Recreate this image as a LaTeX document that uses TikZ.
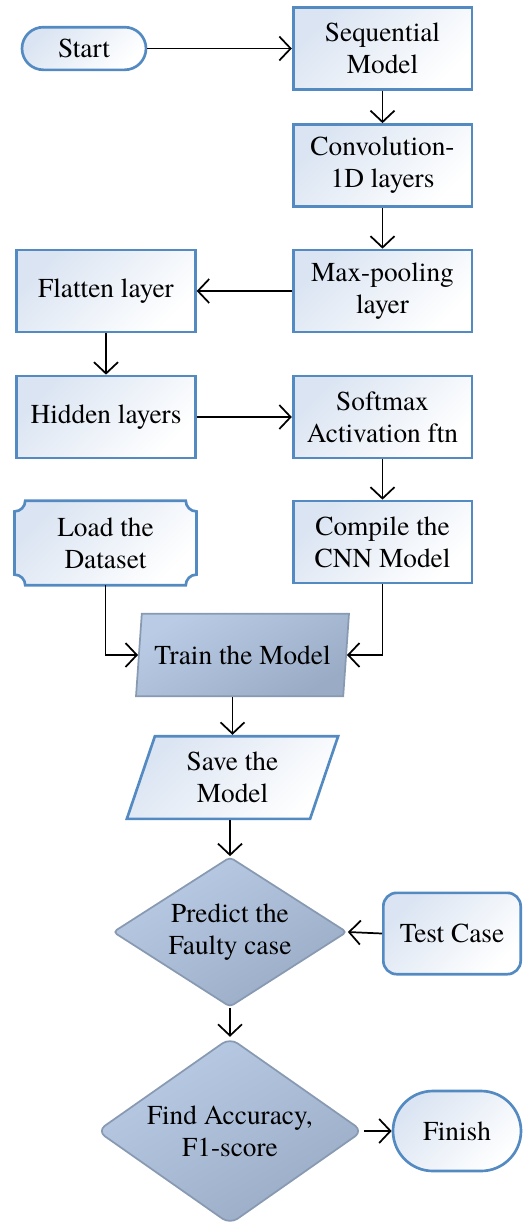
\documentclass[tikz,border=0pt]{standalone}
\usepackage{fontspec}
\setmainfont{texgyretermes-regular.otf}[BoldFont=texgyretermes-bold.otf]
\usetikzlibrary{shapes.geometric,arrows.meta,calc,backgrounds}

\definecolor{edgeblue}{RGB}{84,138,194}
\definecolor{paleblue}{RGB}{218,228,242}
\definecolor{steeltop}{RGB}{186,204,229}
\definecolor{steelbot}{RGB}{154,171,198}
\definecolor{steeledge}{RGB}{136,153,178}

\tikzset{
  label text/.style={text=black, align=center, font=\fontsize{20.5}{24}\selectfont, inner sep=0pt},
  lightfill/.style={top color=paleblue, bottom color=white, shading angle=45},
  lightshape/.style={label text, draw=edgeblue, line width=2pt, lightfill},
  darkshape/.style={label text, draw=steeledge, line width=1.3pt,
    top color=steeltop, bottom color=steelbot, shading angle=30},
  procbox/.style={lightshape, rectangle, minimum width=134pt, minimum height=61.5pt},
  terminal/.style={lightshape, rectangle, rounded corners=#1},
  iobox/.style={trapezium, trapezium stretches=true, minimum height=62pt},
  decision/.style={darkshape, diamond, aspect=1},
  flow/.style={line width=1.3pt, -{Straight Barb[length=8.5pt,width=18pt]}},
}

\begin{document}
\begin{tikzpicture}[x=0.75pt,y=-0.75pt]
\useasboundingbox (0,0) rectangle (523,1225);

% upper part: network construction
\node[terminal=16pt, minimum width=93pt, minimum height=32pt] (start) at (84,48.5) {Start};
\node[procbox] (seq)     at (382.5,48.5)  {Sequential\\Model};
\node[procbox] (conv)    at (382.5,165.5) {Convolution-\\1D layers};
\node[procbox] (pool)    at (382.5,291)   {Max-pooling\\layer};
\node[procbox] (flat)    at (106,291)     {Flatten layer};
\node[procbox] (hidden)  at (106,417)     {Hidden layers};
\node[procbox] (softmax) at (382.5,417)   {Softmax\\Activation ftn};
\node[procbox] (compile) at (382.5,542)   {Compile the\\CNN Model};

% dataset card with concave corners
\node[label text, rectangle, minimum width=136pt, minimum height=63pt] (load) at (105.5,543) {Load the\\Dataset};
\begin{scope}[on background layer]
  \path[draw=edgeblue, line width=2pt, lightfill]
    ($(load.north west)+(8pt,0)$) -- ($(load.north east)+(-8pt,0)$)
    arc[start angle=180, end angle=270, radius=8pt]
    -- ($(load.south east)+(0,8pt)$)
    arc[start angle=90, end angle=180, radius=8pt]
    -- ($(load.south west)+(8pt,0)$)
    arc[start angle=0, end angle=90, radius=8pt]
    -- ($(load.north west)+(0,-8pt)$)
    arc[start angle=270, end angle=360, radius=8pt]
    -- cycle;
\end{scope}

% training and evaluation
\node[darkshape, iobox, minimum width=160pt, trapezium left angle=75, trapezium right angle=105] (train) at (242.5,655) {Train the Model};
\node[lightshape, iobox, minimum width=160pt, trapezium left angle=72, trapezium right angle=108] (save) at (232.5,777.5) {Save the\\Model};
\node[decision, rounded corners=3pt, minimum width=175.5pt, minimum height=112.5pt,
      label={[label text]center:Predict the\\Faulty case}] (predict) at (230,932) {};
\node[terminal=10pt, minimum width=103pt, minimum height=61pt] (test) at (452,933.5) {Test Case};
\node[decision, rounded corners=7pt, minimum width=199.5pt, minimum height=140pt,
      label={[label text]center:Find Accuracy,\\F1-score}] (find) at (230,1131) {};
\node[terminal=30pt, minimum width=96pt, minimum height=60pt] (finish) at (457,1131) {Finish};

% connectors
\draw[flow] (start.east) -- (seq.west);
\draw[flow] (seq.south) -- (conv.north);
\draw[flow] (conv.south) -- (pool.north);
\draw[flow] (pool.west) -- (flat.east);
\draw[flow] (flat.south) -- (hidden.north);
\draw[flow] (hidden.east) -- (softmax.west);
\draw[flow] (softmax.south) -- (compile.north);
\draw[flow] (load.south) |- (train.left side);
\draw[flow] (compile.south) |- (train.right side);
\draw[flow] (train.south -| save.north) -- (save.north);
\draw[flow] (save.south -| predict.north) -- (predict.north);
\draw[flow] (test.west) -- (predict.east);
\draw[flow] (predict.south) -- (find.north);
\draw[flow] (find.east) -- (finish.west);
\end{tikzpicture}
\end{document}
